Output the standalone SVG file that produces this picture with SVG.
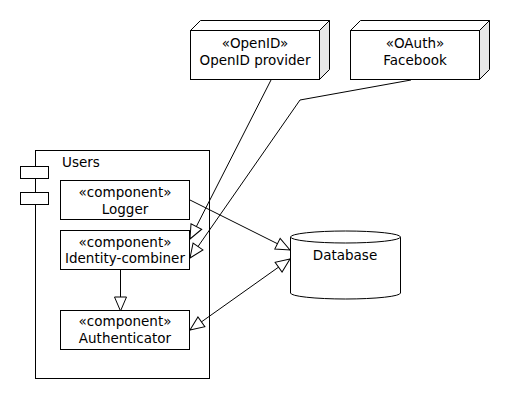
<svg xmlns="http://www.w3.org/2000/svg" width="510" height="400" viewBox="0 0 510 400">
<style>
.s{fill:#fff;stroke:#000;stroke-width:1}
.side{fill:#e8e8e8;stroke:#000;stroke-width:1}
.t{font-family:"DejaVu Sans",Verdana,sans-serif;font-size:13.5px;fill:#000;text-anchor:middle}
.tl{font-family:"DejaVu Sans",Verdana,sans-serif;font-size:13.5px;fill:#000}
.c{fill:none;stroke:#000;stroke-width:1}
</style>
<defs>
<marker id="tri" viewBox="-1 -8 16 16" refX="14" refY="0" markerWidth="16" markerHeight="16" markerUnits="userSpaceOnUse" orient="auto-start-reverse">
<path d="M14,0 L0,-6 L0,6 Z" fill="#fff" stroke="#000" stroke-width="1"/>
</marker>
</defs>
<rect width="510" height="400" fill="#fff"/>
<g id="openid">
<polygon class="s" points="190.5,30.5 200.5,20.5 329.5,20.5 319.5,30.5"/>
<polygon class="side" points="319.5,30.5 329.5,20.5 329.5,69.5 319.5,79.5"/>
<rect class="s" x="190.5" y="30.5" width="129" height="49"/>
<text class="t" x="255" y="48">«OpenID»</text>
<text class="t" x="255" y="65">OpenID provider</text>
</g>
<g id="facebook">
<polygon class="s" points="350.5,30.5 360.5,20.5 489.5,20.5 479.5,30.5"/>
<polygon class="side" points="479.5,30.5 489.5,20.5 489.5,69.5 479.5,79.5"/>
<rect class="s" x="350.5" y="30.5" width="129" height="49"/>
<text class="t" x="415" y="48">«OAuth»</text>
<text class="t" x="415" y="65">Facebook</text>
</g>
<g id="users">
<rect class="s" x="35.5" y="150.5" width="174" height="228"/>
<rect class="s" x="20.5" y="166.5" width="28" height="12"/>
<rect class="s" x="20.5" y="192.5" width="28" height="12"/>
<text class="tl" x="62" y="167">Users</text>
</g>
<g id="logger">
<rect class="s" x="60.5" y="180.5" width="129" height="39"/>
<text class="t" x="125" y="197">«component»</text>
<text class="t" x="125" y="214">Logger</text>
</g>
<g id="identity-combiner">
<rect class="s" x="60.5" y="230.5" width="129" height="39"/>
<text class="t" x="125" y="247">«component»</text>
<text class="t" x="125" y="263">Identity-combiner</text>
</g>
<g id="authenticator">
<rect class="s" x="60.5" y="310.5" width="129" height="39"/>
<text class="t" x="125" y="326">«component»</text>
<text class="t" x="125" y="343">Authenticator</text>
</g>
<g id="database">
<path class="s" d="M290.5,237 L290.5,293 A55,6 0 0 0 400.5,293 L400.5,237"/>
<ellipse class="s" cx="345.5" cy="237" rx="55" ry="6"/>
<text class="t" x="345" y="260">Database</text>
</g>
<g id="connectors">
<path class="c" d="M271,80 L190,239" marker-end="url(#tri)"/>
<path class="c" d="M411,80 L300,100 L190,258" marker-end="url(#tri)"/>
<path class="c" d="M190,200 L290,250" marker-end="url(#tri)"/>
<path class="c" d="M190,330 L290,259" marker-start="url(#tri)" marker-end="url(#tri)"/>
<path class="c" d="M120.5,270 L120.5,311" marker-end="url(#tri)"/>
</g>
</svg>
